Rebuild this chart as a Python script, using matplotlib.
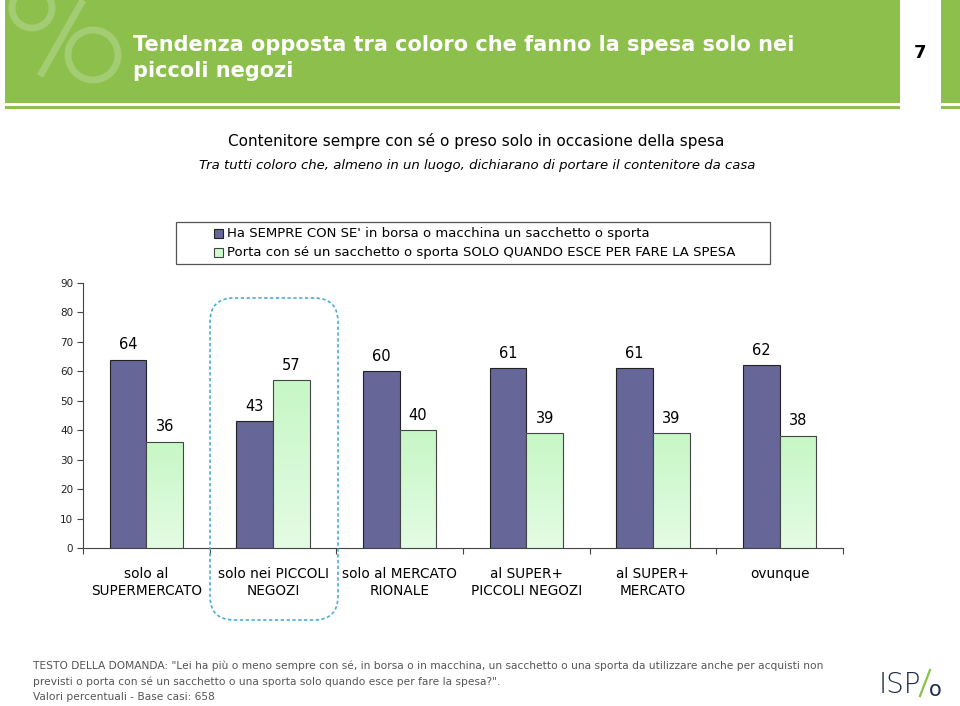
import matplotlib
matplotlib.use("Agg")
import matplotlib.pyplot as plt
import numpy as np
from matplotlib.patches import Rectangle, FancyBboxPatch, Circle
from matplotlib.lines import Line2D
from matplotlib.colors import LinearSegmentedColormap

categories = ["solo al\nSUPERMERCATO", "solo nei PICCOLI\nNEGOZI", "solo al MERCATO\nRIONALE",
              "al SUPER+\nPICCOLI NEGOZI", "al SUPER+\nMERCATO", "ovunque"]
sempre = [64, 43, 60, 61, 61, 62]
solo_spesa = [36, 57, 40, 39, 39, 38]
series_names = ["Ha SEMPRE CON SE' in borsa o macchina un sacchetto o sporta",
                "Porta con sé un sacchetto o sporta SOLO QUANDO ESCE PER FARE LA SPESA"]
yticks = [0, 10, 20, 30, 40, 50, 60, 70, 80, 90]

W, H = 960, 706
fig = plt.figure(figsize=(W / 100, H / 100), dpi=100)
fig.patch.set_facecolor("white")

def fx(px):
    return px / W

def fy(py):
    return 1 - py / H

GREEN = "#8CBF4B"
LIGHTG = "#A3CC73"

# header band (background axes in pixel units)
hax = fig.add_axes([0, 0, 1, 1], zorder=-5)
hax.set_xlim(0, W)
hax.set_ylim(H, 0)
hax.axis("off")
hax.add_patch(Rectangle((5, 0), 895, 103, facecolor=GREEN, edgecolor="none"))
hax.add_patch(Rectangle((5, 106), 895, 3, facecolor=GREEN, edgecolor="none"))
hax.add_patch(Rectangle((941, 0), 19, 103, facecolor=GREEN, edgecolor="none"))
hax.add_patch(Rectangle((941, 106), 19, 3, facecolor=GREEN, edgecolor="none"))
# watermark percent sign
hax.add_patch(Circle((32, 8), 20, fill=False, edgecolor=LIGHTG, linewidth=5))
hax.add_patch(Circle((93, 55), 25, fill=False, edgecolor=LIGHTG, linewidth=5))
hax.add_line(Line2D([40, 83], [76, 0], color=LIGHTG, linewidth=5, solid_capstyle="butt"))
hax.add_patch(Rectangle((0, -20), 5, 130, facecolor="white", edgecolor="none"))
hax.add_patch(Rectangle((0, -20), 960, 20, facecolor="white", edgecolor="none"))

fig.text(fx(133), fy(45), "Tendenza opposta tra coloro che fanno la spesa solo nei",
         color="white", fontsize=15, fontweight="bold", va="center", ha="left")
fig.text(fx(133), fy(71), "piccoli negozi",
         color="white", fontsize=15, fontweight="bold", va="center", ha="left")
fig.text(fx(920), fy(53), "7", color="black", fontsize=13, fontweight="bold", va="center", ha="center")

fig.text(fx(476), fy(141), "Contenitore sempre con sé o preso solo in occasione della spesa",
         fontsize=11, ha="center", va="center", color="black")
fig.text(fx(477), fy(166), "Tra tutti coloro che, almeno in un luogo, dichiarano di portare il contenitore da casa",
         fontsize=9.5, style="italic", ha="center", va="center", color="black")

# main axes
ax = fig.add_axes([fx(83), fy(548), fx(760), (548 - 283) / H])
ax.set_xlim(0, len(categories))
ax.set_ylim(0, 90)
x = np.arange(len(categories)) + 0.5
bw = 0.29
PURPLE = "#666699"

bars1 = ax.bar(x - bw / 2, sempre, width=bw, color=PURPLE, edgecolor="#222222", linewidth=0.8, zorder=3)
bars2 = ax.bar(x + bw / 2, solo_spesa, width=bw, color="#CCFFCC", edgecolor="#444444", linewidth=0.8, zorder=3)

grad = np.linspace(0, 1, 256).reshape(-1, 1)
cmap = LinearSegmentedColormap.from_list("g", ["#E4FCE4", "#C6F7C6"])
for b in bars2:
    x0, y0 = b.get_x(), b.get_y()
    w, h = b.get_width(), b.get_height()
    im = ax.imshow(grad, extent=[x0, x0 + w, y0, y0 + h], origin="lower", cmap=cmap,
                   aspect="auto", zorder=3.5)
    im.set_clip_path(b)
    b.set_facecolor("none")
    b.set_zorder(4)
ax.set_xlim(0, len(categories))
ax.set_ylim(0, 90)

for b, v in zip(bars1, sempre):
    ax.text(b.get_x() + b.get_width() / 2, v + 2.6, str(v), ha="center", va="bottom", fontsize=10.5)
for b, v in zip(bars2, solo_spesa):
    ax.text(b.get_x() + b.get_width() / 2, v + 2.6, str(v), ha="center", va="bottom", fontsize=10.5)

ax.set_yticks(yticks)
ax.set_yticklabels([str(t) for t in yticks], fontsize=7.5, color="#222222")
ax.set_xticks(np.arange(len(categories) + 1))
ax.set_xticklabels([])
ax.tick_params(axis="x", direction="out", length=4, width=0.8, color="#444444")
ax.tick_params(axis="y", direction="out", length=4, width=0.8, color="#444444", pad=3)
for s in ["top", "right"]:
    ax.spines[s].set_visible(False)
ax.spines["left"].set_color("#444444")
ax.spines["bottom"].set_color("#444444")
ax.patch.set_alpha(0)

for xi, c in zip(x, categories):
    ax.annotate(c, (xi, 0), xytext=(0, -14), textcoords="offset points", ha="center", va="top",
                fontsize=9.8, linespacing=1.25, annotation_clip=False)

# legend
fig.patches.append(Rectangle((fx(176), fy(264)), fx(594), 42 / H, transform=fig.transFigure,
                             facecolor="white", edgecolor="#555555", linewidth=0.9))
fig.patches.append(Rectangle((fx(214), fy(238)), fx(9), 9 / H, transform=fig.transFigure,
                             facecolor=PURPLE, edgecolor="#222222", linewidth=0.8))
fig.patches.append(Rectangle((fx(214), fy(257)), fx(9), 9 / H, transform=fig.transFigure,
                             facecolor="#CCFFCC", edgecolor="#444444", linewidth=0.8))
fig.text(fx(227), fy(233), series_names[0], fontsize=9.5, va="center", ha="left")
fig.text(fx(227), fy(253), series_names[1], fontsize=9.5, va="center", ha="left")

# highlight rounded box around second category
fig.patches.append(FancyBboxPatch((fx(210), fy(620)), fx(128), (620 - 298) / H,
                                  boxstyle="round,pad=0,rounding_size=0.025",
                                  transform=fig.transFigure, fill=False,
                                  edgecolor="#4AAED6", linewidth=1.2, linestyle=(0, (2, 1.5)),
                                  mutation_aspect=W / H))

# footer
GREY = "#555555"
fig.text(fx(33), fy(666),
         "TESTO DELLA DOMANDA: \"Lei ha più o meno sempre con sé, in borsa o in macchina, un sacchetto o una sporta da utilizzare anche per acquisti non",
         fontsize=7.7, color=GREY, va="center", ha="left")
fig.text(fx(33), fy(682), "previsti o porta con sé un sacchetto o una sporta solo quando esce per fare la spesa?\".",
         fontsize=7.7, color=GREY, va="center", ha="left")
fig.text(fx(33), fy(697), "Valori percentuali - Base casi: 658", fontsize=7.7, color=GREY, va="center", ha="left")

# logo
NAVY = "#1F2B4D"
fig.text(fx(879), fy(685), "ISP", fontsize=20, color=NAVY, va="center", ha="left", fontweight="light")
hax.add_line(Line2D([920, 930], [696, 670], color="#8CBF4B", linewidth=1.6))
fig.text(fx(929), fy(690), "o", fontsize=15, color=NAVY, va="center", ha="left")

fig.savefig("out.png", dpi=100)
